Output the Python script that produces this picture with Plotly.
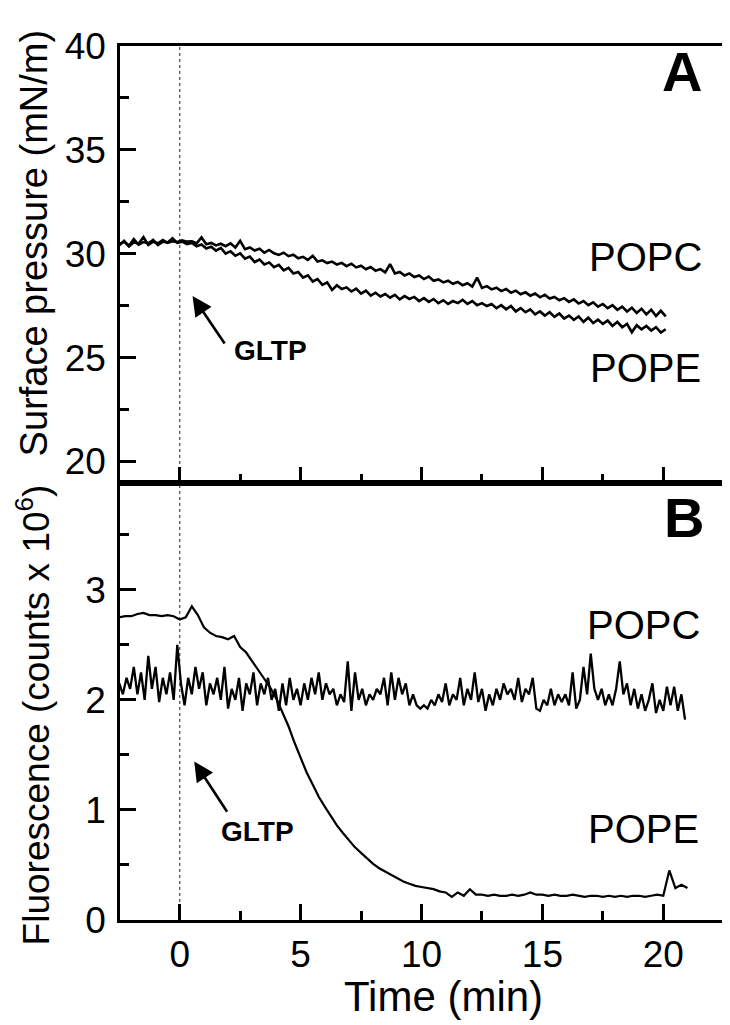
import numpy as np
import plotly.graph_objects as go

# ---------------- data ----------------
# Panel A: surface pressure (mN/m), sampled every 0.2 min from -2.5 min
A_T0, A_STEP = -2.5, 0.2
popc_a = [30.40, 30.62, 30.35, 30.55, 30.48, 30.80, 30.42, 30.58, 30.50, 30.66,
          30.52, 30.60, 30.56, 30.64, 30.58, 30.60, 30.50, 30.78, 30.45, 30.52,
          30.40, 30.48, 30.36, 30.50, 30.30, 30.62, 30.22, 30.30, 30.15, 30.24,
          30.05, 30.18, 30.02, 29.94, 30.05, 29.88, 29.95, 29.78, 29.85, 29.70,
          29.90, 29.62, 29.68, 29.55, 29.62, 29.48, 29.56, 29.40, 29.52, 29.34,
          29.42, 29.25, 29.36, 29.18, 29.26, 29.10, 29.50, 29.05, 29.12, 28.95,
          29.05, 28.88, 28.95, 28.78, 28.90, 28.70, 28.76, 28.62, 28.70, 28.55,
          28.64, 28.48, 28.58, 28.42, 28.85, 28.35, 28.44, 28.28, 28.36, 28.20,
          28.30, 28.12, 28.22, 28.05, 28.14, 27.98, 28.08, 27.90, 28.02, 27.84,
          27.92, 27.76, 27.86, 27.68, 27.80, 27.60, 27.72, 27.52, 27.66, 27.45,
          27.58, 27.38, 27.52, 27.30, 27.45, 27.22, 27.40, 27.15, 27.35, 27.08,
          27.30, 27.00, 27.25, 26.98]
pope_a = [30.45, 30.58, 30.38, 30.70, 30.44, 30.56, 30.50, 30.66, 30.42, 30.58,
          30.54, 30.74, 30.52, 30.58, 30.46, 30.52, 30.36, 30.44, 30.25, 30.34,
          30.15, 30.28, 30.00, 30.12, 29.90, 30.02, 29.76, 29.86, 29.60, 29.72,
          29.48, 29.58, 29.35, 29.46, 29.20, 29.32, 29.05, 29.12, 28.85, 28.96,
          28.66, 28.78, 28.50, 28.62, 28.25, 28.48, 28.30, 28.38, 28.18, 28.32,
          28.08, 28.22, 27.98, 28.12, 27.94, 28.06, 27.88, 28.02, 27.80, 27.96,
          27.82, 27.92, 27.72, 27.86, 27.68, 27.82, 27.62, 27.76, 27.58, 27.72,
          27.62, 27.78, 27.58, 27.72, 27.52, 27.62, 27.48, 27.58, 27.38, 27.52,
          27.32, 27.48, 27.22, 27.38, 27.18, 27.32, 27.08, 27.22, 27.02, 27.18,
          26.96, 27.12, 26.88, 27.02, 26.82, 26.98, 26.72, 26.92, 26.66, 26.82,
          26.62, 26.78, 26.52, 26.72, 26.46, 26.62, 26.22, 26.56, 26.36, 26.52,
          26.30, 26.46, 26.20, 26.36]

# Panel B: fluorescence (counts x 10^6)
PC_B_T0, PC_B_STEP = -2.5, 0.15
popc_b = [2.15, 2.05, 2.20, 2.10, 2.30, 2.05, 2.25, 2.00, 2.40, 2.10,
          2.30, 1.98, 2.20, 2.05, 2.25, 2.00, 2.50, 2.15, 1.95, 2.20,
          2.05, 2.30, 2.10, 2.25, 1.95, 2.15, 2.05, 2.20, 2.00, 2.30,
          1.92, 2.10, 2.00, 2.20, 1.90, 2.15, 2.05, 2.25, 1.95, 2.15,
          2.05, 2.20, 2.00, 2.10, 1.90, 2.15, 1.95, 2.20, 2.00, 2.10,
          1.95, 2.15, 2.00, 2.20, 2.05, 2.25, 2.00, 2.15, 2.05, 2.10,
          1.95, 2.05, 1.98, 2.35, 1.90, 2.25, 2.00, 2.10, 1.95, 2.05,
          2.00, 2.10, 2.05, 2.20, 1.95, 2.25, 2.00, 2.20, 2.05, 2.15,
          1.95, 2.05, 1.95, 1.92, 1.95, 1.92, 2.00, 1.95, 2.05, 1.98,
          2.15, 1.95, 2.05, 2.00, 2.20, 1.95, 2.10, 2.00, 2.25, 1.98,
          2.10, 1.90, 2.05, 1.95, 2.10, 2.00, 2.15, 2.05, 2.10, 2.00,
          2.20, 1.98, 2.10, 2.05, 2.20, 1.92, 1.90, 2.00, 1.95, 2.10,
          1.95, 2.05, 1.98, 2.05, 1.95, 2.25, 1.92, 2.00, 2.30, 2.05,
          2.42, 2.10, 2.00, 2.10, 1.95, 2.05, 1.95, 2.10, 2.35, 2.05,
          2.15, 1.95, 2.10, 1.92, 2.05, 1.90, 2.00, 2.15, 1.88, 2.00,
          1.90, 2.12, 1.95, 2.12, 1.90, 2.05, 1.82]
PE_B_T0, PE_B_STEP = -2.5, 0.25
pope_b = [2.75, 2.76, 2.76, 2.78, 2.79, 2.77, 2.77, 2.76, 2.77, 2.76,
          2.73, 2.75, 2.85, 2.77, 2.66, 2.61, 2.58, 2.57, 2.55, 2.58,
          2.48, 2.43, 2.35, 2.27, 2.19, 2.11, 2.01, 1.89, 1.76, 1.61,
          1.47, 1.34, 1.23, 1.12, 1.03, 0.94, 0.86, 0.79, 0.72, 0.66,
          0.61, 0.56, 0.51, 0.47, 0.44, 0.41, 0.38, 0.35, 0.33, 0.31,
          0.30, 0.29, 0.28, 0.26, 0.25, 0.21, 0.25, 0.22, 0.28, 0.23,
          0.23, 0.22, 0.23, 0.22, 0.22, 0.23, 0.22, 0.23, 0.25, 0.23,
          0.23, 0.22, 0.23, 0.22, 0.22, 0.23, 0.22, 0.21, 0.22, 0.22,
          0.21, 0.22, 0.21, 0.22, 0.21, 0.22, 0.22, 0.21, 0.22, 0.23,
          0.22, 0.45, 0.29, 0.32, 0.29]

x_tickvals = [0, 5, 10, 15, 20]
ya_tickvals = [20, 25, 30, 35, 40]
yb_tickvals = [0, 1, 2, 3]

t_a = A_T0 + A_STEP * np.arange(len(popc_a))
t_pc_b = PC_B_T0 + PC_B_STEP * np.arange(len(popc_b))
t_pe_b = PE_B_T0 + PE_B_STEP * np.arange(len(pope_b))

# ---------------- figure ----------------
FONT = "Liberation Sans, Arial, Helvetica, sans-serif"
BLACK = "#000000"

fig = go.Figure()
fig.add_trace(go.Scatter(x=t_a, y=popc_a, mode="lines", name="POPC",
                         line=dict(color=BLACK, width=2.6), xaxis="x", yaxis="y"))
fig.add_trace(go.Scatter(x=t_a, y=pope_a, mode="lines", name="POPE",
                         line=dict(color=BLACK, width=2.6), xaxis="x", yaxis="y"))
fig.add_trace(go.Scatter(x=t_pc_b, y=popc_b, mode="lines", name="POPC",
                         line=dict(color=BLACK, width=2.3), xaxis="x2", yaxis="y2"))
fig.add_trace(go.Scatter(x=t_pe_b, y=pope_b, mode="lines", name="POPE",
                         line=dict(color=BLACK, width=2.2), xaxis="x2", yaxis="y2"))

XR = [-2.47, 22.47]
common_axis = dict(showline=True, linecolor=BLACK, linewidth=2.6, mirror=True,
                   showgrid=False, zeroline=False, ticks="inside", ticklen=16,
                   tickwidth=2.6, tickcolor=BLACK,
                   tickfont=dict(family=FONT, size=37, color=BLACK))
minor_x = dict(ticks="inside", dtick=2.5, tick0=0, ticklen=9,
               tickwidth=2.6, tickcolor=BLACK)

fig.update_layout(
    width=730, height=1025,
    margin=dict(l=112, r=12, t=38, b=113),
    paper_bgcolor="white", plot_bgcolor="white",
    showlegend=False,
    font=dict(family=FONT, color=BLACK),
    xaxis=dict(common_axis, domain=[0, 1], anchor="y", range=XR,
               tickvals=x_tickvals, showticklabels=False, minor=minor_x),
    yaxis=dict(common_axis, domain=[0.5, 1], anchor="x", range=[18.96, 40],
               tickvals=ya_tickvals, ticklabelstandoff=4,
               minor=dict(ticks="inside", dtick=2.5, tick0=0, ticklen=9,
                          tickwidth=2.6, tickcolor=BLACK)),
    xaxis2=dict(common_axis, domain=[0, 1], anchor="y2", range=XR,
                tickvals=x_tickvals, minor=minor_x),
    yaxis2=dict(common_axis, domain=[0, 0.5], anchor="x2", range=[0, 3.97],
                tickvals=yb_tickvals, ticklabelstandoff=4,
                minor=dict(ticks="inside", dtick=0.5, tick0=0, ticklen=9,
                           tickwidth=2.6, tickcolor=BLACK)),
)

# GLTP injection time marker
fig.add_shape(type="line", xref="x", yref="paper", x0=0, x1=0, y0=0, y1=1,
              line=dict(color="#555555", width=1.3, dash="dot"), layer="below")

ann = []
def label(text, x, y, xref, yref, size, bold=False):
    ann.append(dict(text=f"<b>{text}</b>" if bold else text, x=x, y=y,
                    xref=xref, yref=yref, showarrow=False,
                    font=dict(family=FONT, size=size, color=BLACK),
                    xanchor="center", yanchor="middle"))

label("A", 20.78, 38.75, "x", "y", 56, bold=True)
label("POPC", 19.26, 29.84, "x", "y", 40)
label("POPE", 19.26, 24.5, "x", "y", 40)
label("GLTP", 3.74, 25.32, "x", "y", 28, bold=True)
label("B", 20.85, 3.66, "x2", "y2", 56, bold=True)
label("POPC", 19.2, 2.68, "x2", "y2", 40)
label("POPE", 19.2, 0.83, "x2", "y2", 40)
label("GLTP", 3.2, 0.8, "x2", "y2", 28, bold=True)

# arrows pointing at the GLTP injection
ann.append(dict(x=0.53, y=27.96, ax=1.9, ay=25.6, xref="x", yref="y",
                axref="x", ayref="y", text="", showarrow=True,
                arrowhead=2, arrowsize=1.5, arrowwidth=2.6, arrowcolor=BLACK))
ann.append(dict(x=0.6, y=1.44, ax=2.0, ay=0.97, xref="x2", yref="y2",
                axref="x2", ayref="y2", text="", showarrow=True,
                arrowhead=2, arrowsize=1.5, arrowwidth=2.6, arrowcolor=BLACK))

# axis titles
ann.append(dict(text="Surface pressure (mN/m)", x=-0.143, y=0.775,
                xref="paper", yref="paper", showarrow=False, textangle=-90,
                font=dict(family=FONT, size=38, color=BLACK),
                xanchor="center", yanchor="middle"))
ann.append(dict(text="Fluorescence (counts x 10<sup>6</sup>)", x=-0.143, y=0.235,
                xref="paper", yref="paper", showarrow=False, textangle=-90,
                font=dict(family=FONT, size=37, color=BLACK),
                xanchor="center", yanchor="middle"))
ann.append(dict(text="Time (min)", x=0.536, y=-0.087,
                xref="paper", yref="paper", showarrow=False,
                font=dict(family=FONT, size=42, color=BLACK),
                xanchor="center", yanchor="middle"))

fig.update_layout(annotations=ann)
fig.write_html("out.html")
